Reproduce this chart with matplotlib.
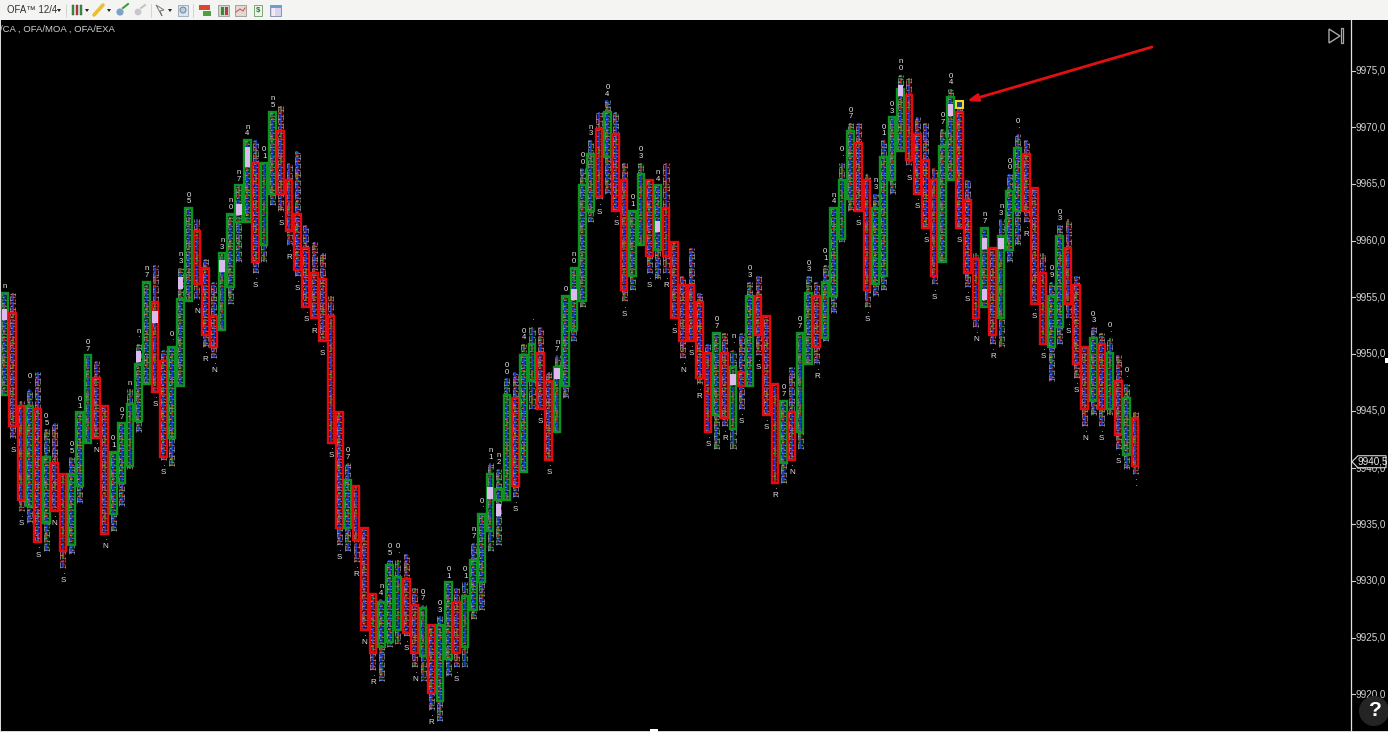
import numpy as np
import matplotlib
matplotlib.use("Agg")
import matplotlib.pyplot as plt
from matplotlib.collections import LineCollection
from matplotlib.patches import Rectangle, Polygon, Circle

plt.rcParams['font.family'] = ['Liberation Sans', 'DejaVu Sans']

# bars, ten per row
highs = [
    9955.25, 9955.25, 9945.75, 9946.75, 9948.25, 9943.25, 9943.75, 9939.25, 9940.75, 9944.75,
    9949.75, 9949.25, 9945.25, 9941.25, 9943.75, 9946.75, 9950.75, 9956.25, 9957.75, 9950.25,
    9950.5, 9957.5, 9962.75, 9961.75, 9958.25, 9956.25, 9958.75, 9962.25, 9964.75, 9968.75,
    9968.75, 9966.75, 9971.25, 9971.75, 9966.75, 9967.75, 9961.25, 9959.75, 9958.75, 9955.0,
    9944.75, 9940.25, 9938.25, 9934.5, 9928.75, 9928.25, 9931.75, 9931.75, 9932.25, 9929.25,
    9927.75, 9926.0, 9926.75, 9929.75, 9929.25, 9929.75, 9933.25, 9935.75, 9940.25, 9939.75,
    9947.75, 9948.25, 9950.75, 9952.25, 9952.25, 9948.25, 9949.75, 9955.0, 9957.5, 9966.25,
    9968.75, 9971.25, 9972.25, 9971.25, 9966.75, 9962.5, 9966.75, 9965.25, 9964.75, 9966.75,
    9959.75, 9956.75, 9959.25, 9955.25, 9950.75, 9951.75, 9951.75, 9950.25, 9951.75, 9956.25,
    9956.75, 9953.25, 9947.25, 9945.75, 9948.75, 9951.75, 9956.75, 9956.25, 9957.75, 9962.75,
    9966.75, 9970.25, 9970.25, 9965.75, 9964.0, 9968.75, 9970.75, 9974.5, 9974.25, 9970.75,
    9970.25, 9966.25, 9969.75, 9973.25, 9972.0, 9965.25, 9958.75, 9961.0, 9959.25, 9961.75,
    9965.75, 9969.25, 9968.75, 9964.5, 9958.75, 9956.25, 9961.25, 9961.75, 9956.75, 9950.5,
    9952.25, 9951.75, 9951.25, 9949.75, 9947.25, 9944.75,
]
lows = [
    9946.5, 9942.75, 9936.25, 9935.25, 9933.5, 9932.75, 9936.25, 9931.25, 9932.5, 9937.0,
    9942.25, 9942.75, 9934.25, 9934.5, 9936.75, 9940.0, 9943.25, 9947.5, 9946.75, 9940.75,
    9940.25, 9947.25, 9954.75, 9955.0, 9950.75, 9949.75, 9952.25, 9954.5, 9958.25, 9961.75,
    9957.25, 9958.25, 9963.25, 9962.75, 9959.75, 9957.0, 9954.25, 9953.25, 9951.25, 9942.25,
    9933.25, 9932.75, 9931.75, 9925.75, 9922.25, 9921.25, 9924.25, 9924.5, 9925.25, 9922.5,
    9921.25, 9918.75, 9917.75, 9921.75, 9922.5, 9922.5, 9926.75, 9927.5, 9932.75, 9933.25,
    9937.25, 9937.5, 9939.75, 9945.25, 9945.25, 9940.75, 9943.25, 9946.25, 9951.25, 9954.25,
    9961.75, 9963.75, 9964.25, 9962.75, 9954.75, 9955.75, 9959.75, 9957.25, 9956.75, 9957.25,
    9953.25, 9949.75, 9951.25, 9947.5, 9943.25, 9941.75, 9943.75, 9941.75, 9945.25, 9947.25,
    9950.0, 9944.75, 9938.75, 9938.75, 9940.75, 9941.75, 9949.25, 9949.25, 9951.25, 9953.75,
    9960.0, 9962.75, 9962.75, 9954.25, 9955.25, 9955.75, 9964.25, 9968.0, 9966.75, 9964.25,
    9961.25, 9956.25, 9958.25, 9965.5, 9961.25, 9956.0, 9952.5, 9954.25, 9951.0, 9950.75,
    9958.25, 9959.75, 9961.75, 9954.5, 9951.0, 9947.75, 9951.0, 9953.25, 9948.0, 9943.75,
    9944.75, 9943.75, 9944.75, 9941.75, 9940.0, 9939.5,
]
opens = [
    9946.5, 9953.5, 9945.25, 9936.75, 9945.0, 9935.25, 9940.25, 9939.25, 9933.25, 9938.5,
    9942.25, 9947.75, 9945.25, 9936.0, 9938.75, 9940.25, 9944.25, 9947.5, 9954.5, 9949.25,
    9942.75, 9947.25, 9954.75, 9960.75, 9957.5, 9953.25, 9952.25, 9956.0, 9961.75, 9961.75,
    9966.75, 9959.75, 9964.25, 9969.5, 9965.25, 9962.25, 9959.25, 9957.0, 9956.5, 9953.25,
    9944.75, 9934.75, 9938.25, 9934.5, 9928.75, 9924.25, 9924.75, 9925.75, 9930.0, 9927.75,
    9923.5, 9926.0, 9919.5, 9923.25, 9928.0, 9924.25, 9927.5, 9930.0, 9934.5, 9937.25,
    9937.25, 9946.0, 9939.75, 9947.75, 9950.0, 9947.5, 9943.25, 9947.25, 9952.25, 9954.75,
    9962.75, 9969.75, 9967.5, 9969.25, 9965.25, 9957.0, 9959.75, 9965.25, 9959.25, 9962.75,
    9959.75, 9956.0, 9956.0, 9954.5, 9950.0, 9944.75, 9950.0, 9943.5, 9948.25, 9947.25,
    9955.0, 9953.25, 9947.25, 9940.5, 9944.75, 9943.25, 9949.25, 9955.0, 9951.5, 9955.25,
    9960.25, 9963.75, 9968.5, 9965.25, 9956.25, 9957.0, 9965.5, 9968.0, 9972.75, 9969.25,
    9967.0, 9965.25, 9958.25, 9965.5, 9971.25, 9963.5, 9958.25, 9954.25, 9959.25, 9953.25,
    9959.25, 9962.75, 9967.5, 9964.5, 9957.0, 9950.75, 9952.5, 9959.25, 9956.0, 9950.5,
    9946.0, 9950.75, 9945.25, 9947.5, 9941.25, 9944.25,
]
closes = [
    9955.25, 9943.75, 9937.25, 9945.25, 9933.5, 9940.75, 9936.25, 9932.75, 9939.25, 9944.75,
    9949.75, 9942.75, 9934.25, 9941.25, 9943.75, 9945.5, 9949.0, 9956.25, 9946.75, 9941.0,
    9950.5, 9954.75, 9962.75, 9956.25, 9951.75, 9950.75, 9958.75, 9962.25, 9964.75, 9968.75,
    9958.25, 9966.75, 9971.25, 9964.25, 9961.0, 9957.5, 9954.25, 9953.25, 9951.25, 9942.25,
    9934.75, 9938.75, 9933.75, 9925.75, 9923.75, 9928.0, 9931.25, 9930.25, 9925.5, 9923.75,
    9927.5, 9920.25, 9926.0, 9929.75, 9923.75, 9928.5, 9931.75, 9935.75, 9939.25, 9938.0,
    9946.25, 9938.5, 9949.75, 9950.75, 9945.25, 9940.75, 9948.75, 9955.0, 9957.5, 9964.75,
    9967.5, 9964.0, 9971.25, 9962.75, 9955.75, 9962.5, 9965.75, 9958.75, 9964.75, 9958.75,
    9953.25, 9951.25, 9951.25, 9948.0, 9943.25, 9951.75, 9944.5, 9948.75, 9947.25, 9955.0,
    9951.75, 9944.75, 9938.75, 9945.75, 9940.75, 9951.75, 9955.25, 9950.75, 9956.25, 9962.75,
    9965.25, 9969.5, 9962.75, 9955.75, 9962.75, 9967.25, 9970.75, 9973.25, 9967.25, 9964.25,
    9961.25, 9957.0, 9968.25, 9972.5, 9961.25, 9957.25, 9953.25, 9961.0, 9951.75, 9960.25,
    9964.25, 9968.0, 9962.75, 9954.5, 9951.0, 9955.0, 9960.25, 9954.5, 9949.25, 9945.25,
    9951.25, 9945.25, 9950.0, 9943.0, 9946.0, 9940.25,
]

# little labels over green bars and under red bars, upper mark then lower mark
tags = [
    "n", "S", "S", "0·", "S", "05", "N", "S", "05", "01",
    "07", "N", "N", "01", "07", "n", "n·", "n7", "S", "S",
    "0·", "n3", "05", "N", "R", "N", "n3", "n0", "n7", "n4",
    "S", "01", "n5", "S", "R", "S", "S", "R", "S", "S",
    "S", "07", "R", "N", "R", "n4", "05", "0·", "S", "N",
    "07", "R", "03", "01", "S", "01", "n7", "0·", "n1", "n2",
    "00", "4S", "04", "·", "1S", "S", "n7", "0", "n0", "00",
    "n3", "S", "04", "S", "S", "01", "03", "S", "n4", "6R",
    "S", "N", "6S", "UR", "S", "07", "R", "n·", "1S", "03",
    "S", "S", "R", "07", "4N", "07", "03", "R", "01", "n4",
    "0·", "07", "S", "S", "n3", "01", "03", "n0", "S", "S",
    "S", "S", "07", "04", "S", "ZS", "1N", "n7", "R", "n3",
    "00", "0·", "R", "S", "S", "09", "03", "S", "S", "N",
    "03", "S", "0·", "S", "0·", "·",
]

# pale high volume cells seen in the columns (bar number, price)
hot_bars = [0, 16, 18, 21, 26, 28, 29, 29, 58, 59, 66, 68, 78, 87, 107, 113, 117, 117, 119]
hot_prices = [9953.5, 9949.75, 9953.25, 9956.25, 9957.75, 9962.75, 9967.75, 9967.0, 9937.75, 9936.25,
              9948.25, 9955.25, 9961.25, 9947.75, 9973.25, 9971.5, 9959.75, 9955.25, 9959.75]

price_ticks = [9920, 9925, 9930, 9935, 9940, 9945, 9950, 9955, 9960, 9965, 9970, 9975]
last_price = 9940.5
marked_bar = 114

RED = "#e8090c"
GREEN = "#0c9420"
cell_cols = ["#1a3fd0", "#1a3fd0", "#c42020", "#1a3fd0", "#1c8c3c", "#1a3fd0", "#8a6a20", "#1a3fd0", "#9040a0"]

fig = plt.figure(figsize=(13.88, 7.32), dpi=100, facecolor="#d8d8d8")
ax = fig.add_axes([0.0007, 1 / 732, 1351 / 1388, 711 / 732], facecolor="black")
ax.set_xlim(-0.4, 160.9)
ax.set_ylim(9916.75, 9979.45)

cell_w = 0.30
n = len(highs)
white_segs, col_segs, col_list = [], [], []
for i in range(n):
    up = closes[i] >= opens[i]
    tint = GREEN if up else RED
    # the column shows through its own colour, also in the wicks
    ax.add_patch(Rectangle((i - cell_w, lows[i]), cell_w * 2, highs[i] - lows[i], fc=tint, ec="none",
                           alpha=0.30, zorder=1))
    levels = np.arange(lows[i], highs[i] + 0.01, 0.25)
    for k, lev in enumerate(levels):
        # footprint look: two columns of ticks around a coloured core
        c = cell_cols[(i * 2 + k) % len(cell_cols)]
        col_segs.append([(i - cell_w * 0.55, lev), (i + cell_w * 0.55, lev)])
        col_list.append(c)
        col_segs.append([(i, lev - 0.12), (i, lev + 0.12)])
        col_list.append(cell_cols[(i + k * 2) % len(cell_cols)])
        if k % 2 == 0:
            white_segs.append([(i - cell_w, lev), (i - cell_w * 0.25, lev)])
        if k % 2 == 1 or k % 5 == 0:
            white_segs.append([(i + cell_w * 0.25, lev), (i + cell_w, lev)])
        if k % 4 != 2:
            white_segs.append([(i - cell_w, lev - 0.12), (i - cell_w, lev + 0.12)])
        if k % 3 != 1:
            white_segs.append([(i + cell_w, lev - 0.12), (i + cell_w, lev + 0.12)])

ax.add_collection(LineCollection(col_segs, colors=col_list, linewidths=1.1, zorder=2))
ax.add_collection(LineCollection(white_segs, colors="#d9d9e6", linewidths=0.5, alpha=0.7, zorder=3))

for i in range(n):
    up = closes[i] >= opens[i]
    top = max(opens[i], closes[i])
    bot = min(opens[i], closes[i])
    col = GREEN if up else RED
    ax.add_patch(Rectangle((i - 0.40, bot - 0.12), 0.80, top - bot + 0.24, fill=False,
                           ec=col, lw=1.7, zorder=4))
    if up:
        # upper mark on top, lower one below it
        ax.text(i + 0.02, highs[i] + 0.35, "\n".join(tags[i]), color="#e8e8e8", fontsize=5.6,
                ha="center", va="bottom", linespacing=0.95, zorder=5)
    else:
        ax.text(i + 0.02, lows[i] - 0.4, "·\n" + tags[i][-1], color="#e2e2e2", fontsize=5.8,
                ha="center", va="top", linespacing=0.8, zorder=5)

for b, p in zip(hot_bars, hot_prices):
    ax.add_patch(Rectangle((b - 0.32, p - 0.5), 0.64, 1.0, fc="#dcbcf0", ec="none", zorder=4))

# marked cell at the top of the down bar
ax.add_patch(Rectangle((marked_bar - 0.42, highs[marked_bar] - 0.32), 0.84, 0.64, fc="#123a90",
                       ec="#f5d820", lw=1.5, zorder=6))

ax.set_yticks([])
ax.set_xticks([])
for s in ax.spines.values():
    s.set_visible(False)

# everything round the chart is placed in screen pixels
ov = fig.add_axes([0, 0, 1, 1], facecolor="none")
ov.set_xlim(0, 1388)
ov.set_ylim(732, 0)
ov.axis("off")

ov.add_patch(Rectangle((1351, 20), 37, 711, fc="black", ec="none", zorder=0))
ov.add_patch(Rectangle((0, 0), 1388, 20, fc="#f4f4f2", ec="none"))
ov.plot([1351, 1351], [20, 731], color="#e0e0e0", lw=0.9)
for t in price_ticks:
    yy = 70.5 + (9975 - t) * 11.34
    if t == 9940:
        # partly hidden by the last price flag
        yy += 1
    ov.plot([1351, 1355], [yy, yy], color="#d0d0d0", lw=0.8)
    ov.text(1356, yy, ("%.1f" % t).replace(".", ","), color="#d4d4d4", fontsize=7.1, va="center", ha="left")

# last price flag
yy = 70.5 + (9975 - last_price) * 11.34
ov.add_patch(Polygon([(1352, yy), (1358, yy - 6), (1386, yy - 6), (1386, yy + 6), (1358, yy + 6)],
                     fc="black", ec="#d8d8d8", lw=0.8, zorder=3))
ov.text(1358, yy, "9940,5", color="#ececec", fontsize=7.1, va="center", ha="left", zorder=4)

# toolbar
ov.text(7, 10, "OFA™ 12/4", color="#303030", fontsize=6.9, va="center", ha="left")
for xp in [59, 87, 109, 170]:
    ov.add_patch(Polygon([(xp - 2, 9), (xp + 2, 9), (xp, 12)], fc="#222222", ec="none"))
for xp, c in [(73, "#2f9a3a"), (77, "#d03030"), (81, "#2f9a3a")]:
    ov.add_patch(Rectangle((xp - 1, 5), 2.4, 10, fc=c, ec="#444444", lw=0.3))
ov.plot([94, 103], [15, 5], color="#e8c030", lw=2.6, solid_capstyle="round")
ov.add_patch(Circle((120, 12), 3.6, fc="#7fa0c8", ec="none"))
ov.plot([123, 128], [8, 4], color="#30a030", lw=1.4)
ov.add_patch(Circle((138, 12), 3.4, fc="#c8c8c8", ec="none"))
ov.plot([141, 145], [8, 5], color="#c0c0c0", lw=1.4)
ov.plot([66, 66], [4, 17], color="#cfcfcf", lw=0.6)
ov.plot([151, 151], [4, 17], color="#cfcfcf", lw=0.6)
ov.add_patch(Polygon([(156, 5), (164, 10), (160, 11), (162, 16)], fc="#f4f4f2", ec="#777777", lw=0.7))
ov.add_patch(Rectangle((178, 5), 10, 11, fc="#dbe4f0", ec="#9aa6b4", lw=0.6))
ov.add_patch(Circle((183, 10), 3, fc="#b8cce0", ec="#607890", lw=0.6))
ov.plot([193, 193], [4, 17], color="#cfcfcf", lw=0.6)
ov.add_patch(Rectangle((199, 5), 11, 5, fc="#d84a30", ec="none"))
ov.add_patch(Rectangle((203, 11), 8, 5, fc="#4fa040", ec="none"))
ov.add_patch(Rectangle((218, 5), 11, 11, fc="#cfd6c8", ec="#888888", lw=0.5))
ov.add_patch(Rectangle((221, 7), 3, 8, fc="#3a8a3a", ec="none"))
ov.add_patch(Rectangle((225, 7), 3, 8, fc="#b04040", ec="none"))
ov.add_patch(Rectangle((235, 5), 11, 11, fc="#e4d8d0", ec="#888888", lw=0.5))
ov.plot([236, 240, 243, 245], [12, 9, 11, 8], color="#c06060", lw=0.8)
ov.add_patch(Rectangle((254, 5), 8, 11, fc="#eef4ea", ec="#6a9a6a", lw=0.6))
ov.text(258, 10.5, "$", color="#207a20", fontsize=5.5, ha="center", va="center", fontweight="bold")
ov.add_patch(Rectangle((270, 5), 11, 11, fc="#d8d4ec", ec="#7a88a8", lw=0.6))
ov.add_patch(Rectangle((270, 5), 11, 3, fc="#6aa0d0", ec="none"))
ov.add_patch(Rectangle((272, 8), 3, 8, fc="#f2ecf8", ec="none"))

ov.text(0, 29.5, "/CA , OFA/MOA , OFA/EXA", color="#d0d0d0", fontsize=6.8, va="center", ha="left")

# jump to end icon
ov.add_patch(Polygon([(1329, 29), (1329, 43), (1340, 36)], fill=False, ec="#a8a8a8", lw=1.0))
ov.add_patch(Rectangle((1341, 28), 2.4, 15, fill=False, ec="#a8a8a8", lw=0.9))

# red annotation arrow
ov.annotate("", xy=(967, 101), xytext=(1152, 47),
            arrowprops=dict(arrowstyle="-|>,head_length=0.6,head_width=0.22", color="#e21010", lw=2.0,
                            shrinkA=0, shrinkB=0))

ov.add_patch(Circle((1374, 711), 15, fc="#242424", ec="none", zorder=3))
ov.text(1375, 711, "?", color="white", fontsize=15, fontweight="bold", ha="center", va="center", zorder=4)
ov.add_patch(Rectangle((650, 729), 8, 3, fc="white", ec="none"))
ov.add_patch(Rectangle((1385, 358), 3, 5, fc="white", ec="none"))

fig.savefig("out.png", dpi=100, facecolor=fig.get_facecolor())
